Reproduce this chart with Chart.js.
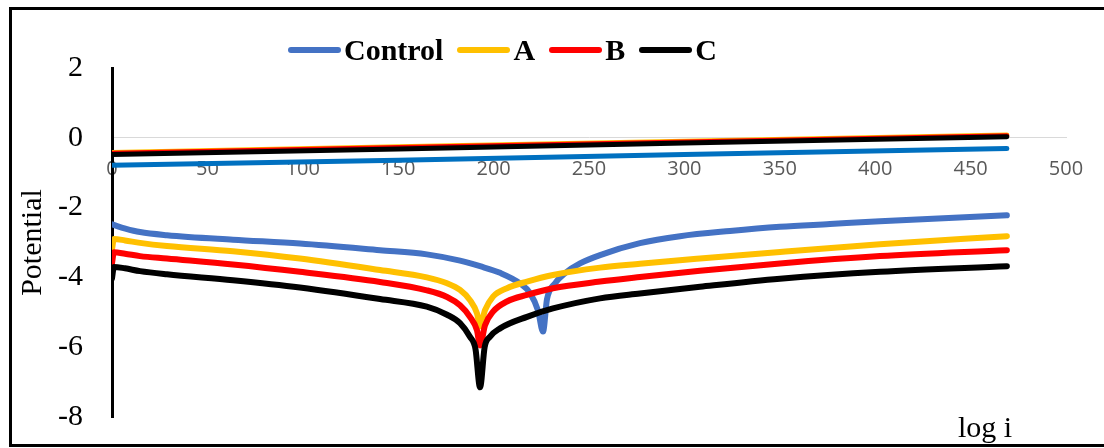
<!DOCTYPE html>
<html>
<head>
<meta charset="utf-8">
<title>Potential vs log i</title>
<script src="https://cdn.jsdelivr.net/npm/chart.js@4.4.1/dist/chart.umd.min.js"></script>
<style>
    html, body { margin: 0; padding: 0; background: #fff; }
    body { width: 1104px; height: 448px; overflow: hidden; position: relative; font-family: "Liberation Serif", "Times New Roman", serif; }
    #wrap { position: absolute; left: 0; top: 0; width: 1104px; height: 448px; }
    #frame { position: absolute; left: 9px; top: 7px; width: 1110px; height: 440px; box-sizing: border-box; border: 3px solid #000; pointer-events: none; }
    #legend { position: absolute; left: 288px; top: 35px; height: 30px; display: flex; align-items: center; font-weight: bold; font-size: 30px; line-height: 30px; color: #000; }
    .item { display: flex; align-items: center; margin-right: 14px; }
    .mark { width: 53px; height: 6px; border-radius: 3px; margin-right: 3px; }
    #xTitle { position: absolute; left: 958px; top: 412px; font-size: 30px; line-height: 30px; color: #000; }
</style>
</head>
<body>
<div id="wrap"><canvas id="chartTafel"></canvas></div>
<div id="legend"></div>
<div id="xTitle">log i</div>
<div id="frame"></div>
<script>
// nomes e cores das séries
const seriesNames = ['Control', 'A', 'B', 'C'];
const curveColors = ['#4472C4', '#FFC000', '#FF0000', '#000000'];
const scanColors = ['#0070C0', '#FFC000', '#FF0000', '#000000'];

// eixos
const xTickValues = [0, 50, 100, 150, 200, 250, 300, 350, 400, 450, 500];
const yTickValues = [2, 0, -2, -4, -6, -8];

// curvas
const controlX = [0, 7, 14.7, 28.8, 63.4, 98.5, 140.5, 165, 182.4, 192.9, 203.4, 213.8, 219.1, 223.3, 225.9, 228, 232.2, 237.4, 245.3, 255.8, 276.7, 297.7, 323.9, 350.1, 376.3, 402.5, 469];
const controlY = [-2.48, -2.6, -2.70, -2.79, -2.92, -3.03, -3.22, -3.34, -3.52, -3.68, -3.87, -4.17, -4.45, -4.95, -5.55, -4.62, -4.17, -3.88, -3.6, -3.36, -3.02, -2.82, -2.67, -2.55, -2.47, -2.39, -2.22];

const aX = [0, 1, 6.8, 14.7, 28.8, 63.4, 98.5, 140.5, 165, 175.6, 182.4, 187.6, 191.3, 192.9, 195.5, 199.7, 207, 217.5, 231.1, 255.8, 276.7, 308.2, 350.1, 402.5, 469];
const aY = [-3.2, -2.9, -2.94, -3.01, -3.1, -3.25, -3.46, -3.79, -4.0, -4.17, -4.36, -4.65, -5.03, -5.4, -4.94, -4.55, -4.31, -4.12, -3.93, -3.72, -3.61, -3.46, -3.27, -3.05, -2.82];

const bX = [0, 1, 6.8, 14.7, 28.8, 63.4, 98.5, 140.5, 165, 175.6, 182.4, 187.6, 191.3, 192.9, 195.5, 199.7, 207, 217.5, 231.1, 255.8, 276.7, 308.2, 350.1, 402.5, 469];
const bY = [-3.6, -3.28, -3.32, -3.39, -3.46, -3.63, -3.84, -4.13, -4.37, -4.56, -4.8, -5.13, -5.52, -5.95, -5.37, -4.98, -4.69, -4.5, -4.31, -4.12, -3.99, -3.81, -3.6, -3.39, -3.22];

const cX = [0, 1, 6.8, 14.7, 28.8, 63.4, 98.5, 140.5, 165, 175.6, 182.4, 187.6, 190.5, 192.9, 195.3, 198.1, 203.4, 217.5, 231.1, 255.8, 276.7, 308.2, 350.1, 402.5, 469];
const cY = [-4.03, -3.7, -3.74, -3.82, -3.91, -4.08, -4.29, -4.62, -4.84, -5.07, -5.31, -5.7, -6.05, -7.15, -6.0, -5.7, -5.46, -5.13, -4.89, -4.6, -4.46, -4.27, -4.04, -3.84, -3.68];

// retas de potencial perto de zero
const scanX = [0, 150, 300, 469];
const scanControl = [-0.79, -0.64, -0.48, -0.31];
const scanA = [-0.42, -0.26, -0.10, 0.08];
const scanB = [-0.44, -0.28, -0.12, 0.06];
const scanC = [-0.48, -0.32, -0.15, 0.03];

function toPoints(xs, ys) {
    return xs.map((x, i) => ({ x: x, y: ys[i] }));
}

function curveDataset(idx, xs, ys) {
    return {
        label: seriesNames[idx],
        data: toPoints(xs, ys),
        borderColor: curveColors[idx],
        backgroundColor: curveColors[idx],
        borderWidth: 6,
        borderCapStyle: 'round',
        borderJoinStyle: 'round',
        pointRadius: 0,
        cubicInterpolationMode: 'monotone',
        order: 4 - idx
    };
}

function scanDataset(idx, ys) {
    return {
        label: seriesNames[idx] + ' scan',
        data: toPoints(scanX, ys),
        borderColor: scanColors[idx],
        backgroundColor: scanColors[idx],
        borderWidth: 5,
        borderCapStyle: 'round',
        pointRadius: 0,
        tension: 0,
        order: 8 - idx,
        isScan: true
    };
}

const datasets = [
    curveDataset(0, controlX, controlY),
    curveDataset(1, aX, aY),
    curveDataset(2, bX, bY),
    curveDataset(3, cX, cY),
    scanDataset(0, scanControl),
    scanDataset(1, scanA),
    scanDataset(2, scanB),
    scanDataset(3, scanC)
];

const ctx = document.getElementById('chartTafel').getContext('2d');
const chart = new Chart(ctx, {
    type: 'line',
    data: { datasets: datasets },
    options: {
        responsive: true,
        maintainAspectRatio: false,
        animation: false,
        layout: { padding: { top: 68, bottom: 31, left: 0, right: 38 } },
        plugins: {
            legend: { display: false },
            tooltip: { enabled: false }
        },
        scales: {
            x: {
                type: 'linear',
                position: { y: 0 },
                min: 0,
                max: 500,
                afterBuildTicks: s => { s.ticks = xTickValues.map(v => ({ value: v })); },
                grid: { display: false, drawTicks: false },
                border: { display: true, color: '#d9d9d9', width: 1 },
                ticks: {
                    padding: 19,
                    color: '#595959',
                    font: { family: '"Open Sans", sans-serif', size: 20 },
                    maxRotation: 0,
                    autoSkip: false
                }
            },
            y: {
                type: 'linear',
                position: 'left',
                min: -8,
                max: 2,
                afterBuildTicks: s => { s.ticks = yTickValues.map(v => ({ value: v })); },
                afterFit: s => {
                    s.width = 112;
                    // o padding dos rótulos não deve encolher a área do gráfico
                    s.paddingTop = 0;
                    s.paddingBottom = 0;
                },
                grid: { display: false, drawTicks: false },
                border: { display: true, color: '#000000', width: 3 },
                ticks: {
                    padding: 29,
                    color: '#000000',
                    font: { family: '"Liberation Serif", "Times New Roman", serif', size: 30 }
                },
                title: {
                    display: true,
                    text: 'Potential',
                    color: '#000000',
                    padding: { top: 15, bottom: 0 },
                    font: { family: '"Liberation Serif", "Times New Roman", serif', size: 30 }
                }
            }
        }
    }
});

// legenda em HTML a partir dos datasets
const legendEl = document.getElementById('legend');
legendEl.innerHTML = chart.data.datasets.filter(d => !d.isScan).map(d => `
    <span class="item"><span class="mark" style="background:${d.borderColor}"></span><span>${d.label}</span></span>
`).join('');
</script>
</body>
</html>
